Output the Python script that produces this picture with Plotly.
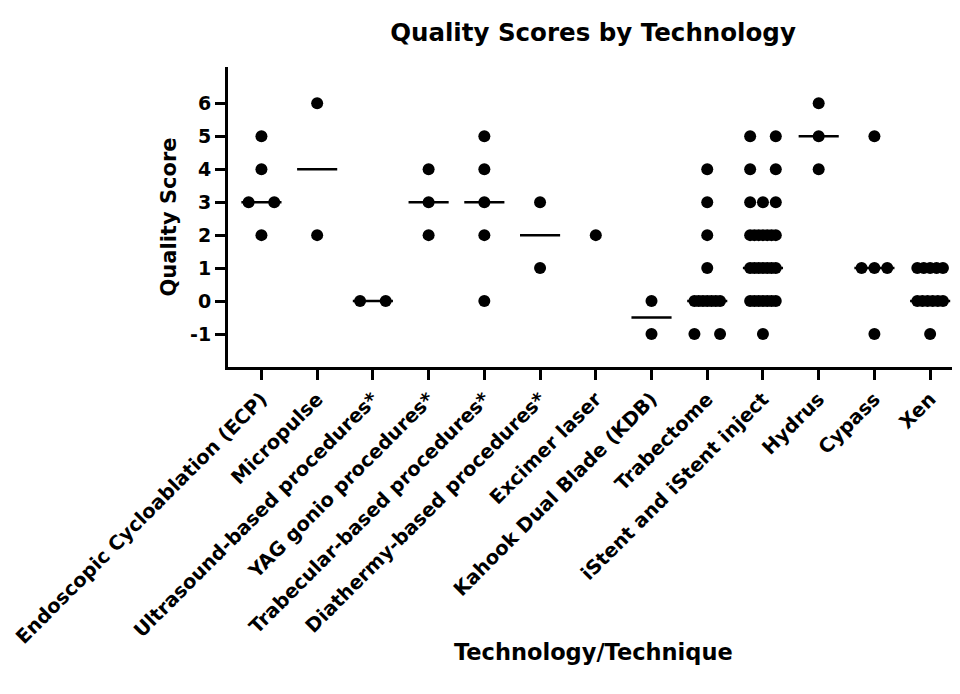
import numpy as np
import plotly.graph_objects as go

categories = [
    "Endoscopic Cycloablation (ECP)", "Micropulse", "Ultrasound-based procedures*",
    "YAG gonio procedures*", "Trabecular-based procedures*", "Diathermy-based procedures*",
    "Excimer laser", "Kahook Dual Blade (KDB)", "Trabectome", "iStent and iStent inject",
    "Hydrus", "Cypass", "Xen",
]

scores_ecp = [5, 4, 3, 3, 2]
scores_micropulse = [6, 2]
scores_ultrasound = [0, 0]
scores_yag = [4, 3, 2]
scores_trabecular = [5, 4, 3, 2, 0]
scores_diathermy = [3, 1]
scores_excimer = [2]
scores_kdb = [0, -1]
scores_trabectome = [4, 3, 2, 1, 0, 0, 0, 0, 0, 0, 0, -1, -1]
scores_istent = [5, 5, 4, 4, 3, 3, 3] + [2] * 7 + [1] * 7 + [0] * 7 + [-1]
scores_hydrus = [6, 5, 4]
scores_cypass = [5, 1, 1, 1, -1]
scores_xen = [1] * 5 + [0] * 6 + [-1]

all_scores = [
    scores_ecp, scores_micropulse, scores_ultrasound, scores_yag, scores_trabecular,
    scores_diathermy, scores_excimer, scores_kdb, scores_trabectome, scores_istent,
    scores_hydrus, scores_cypass, scores_xen,
]

y_ticks = [-1, 0, 1, 2, 3, 4, 5, 6]

# scatter-dot layout (Prism-like): points sharing a value spread over a fixed width
SPREAD = 0.23
MEDIAN_HALF = 0.36

FONT = "DejaVu Sans"

fig = go.Figure()
for i, vals in enumerate(all_scores):
    xs, ys = [], []
    for v in sorted(set(vals), reverse=True):
        n = vals.count(v)
        offs = [0.0] if n == 1 else list(np.linspace(-SPREAD, SPREAD, n))
        xs += [i + o for o in offs]
        ys += [v] * n
    if len(vals) > 1:
        med = float(np.median(vals))
        fig.add_trace(go.Scatter(
            x=[i - MEDIAN_HALF, i + MEDIAN_HALF], y=[med, med], mode="lines",
            line=dict(color="black", width=2.5), showlegend=False, hoverinfo="skip"))
    fig.add_trace(go.Scatter(
        x=xs, y=ys, mode="markers", marker=dict(color="black", size=12, line=dict(width=0)),
        showlegend=False, name=categories[i]))

W, H = 952, 686  # page body has an 8px margin in the browser window

fig.update_layout(
    width=W, height=H,
    margin=dict(l=220, r=2, t=59, b=327),
    paper_bgcolor="white", plot_bgcolor="white",
    font=dict(family=FONT, color="black", weight="bold"),
    title=dict(text="Quality Scores by Technology", x=0.5, xref="paper",
               y=1 - 24 / H, yref="container", yanchor="middle", xanchor="center",
               font=dict(size=24.5, family=FONT, weight="bold", color="black")),
    xaxis=dict(range=[-0.6, 12.5], tickmode="array", tickvals=list(range(len(categories))),
               ticktext=categories, tickangle=-45, showline=True, linecolor="black",
               linewidth=3, ticks="outside", ticklen=10, tickwidth=3, tickcolor="black",
               showgrid=False, zeroline=False, ticklabeloverflow="allow",
               tickfont=dict(size=19.5, family=FONT, weight="bold", color="black")),
    yaxis=dict(range=[-2, 7.1], tickmode="array", tickvals=y_ticks,
               ticktext=[str(t) for t in y_ticks], showline=True, linecolor="black",
               linewidth=3, ticks="outside", ticklen=10, tickwidth=3, tickcolor="black",
               showgrid=False, zeroline=False,
               tickfont=dict(size=19, family=FONT, weight="bold", color="black"),
               title=dict(text="Quality Score", standoff=8,
                          font=dict(size=21, family=FONT, weight="bold", color="black"))),
    annotations=[dict(text="Technology/Technique", xref="paper", yref="paper",
                      x=0.5, y=(359 - 644) / 300, xanchor="center", yanchor="middle",
                      showarrow=False,
                      font=dict(size=22.5, family=FONT, weight="bold", color="black"))],
)

fig.write_html("out.html")
